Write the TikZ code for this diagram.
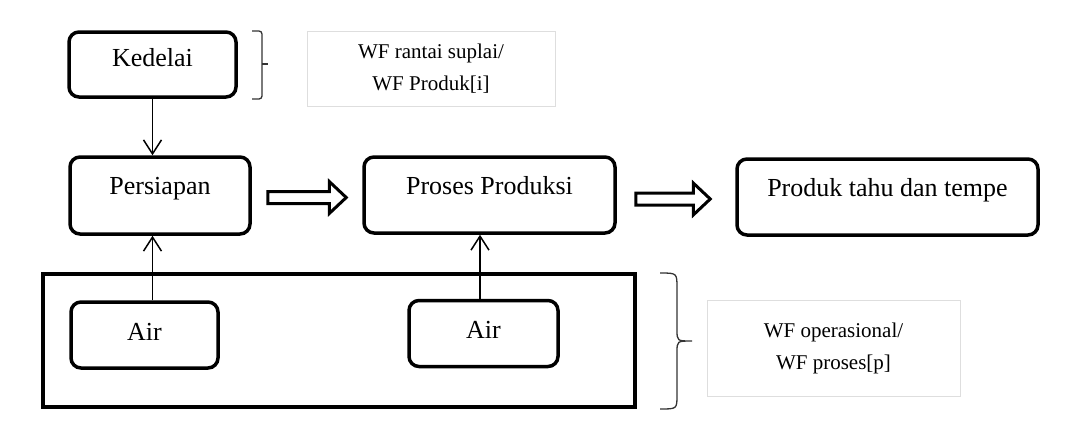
\documentclass[tikz,border=0pt]{standalone}
\usepackage{fontspec}
\setmainfont{Liberation Serif}
\usetikzlibrary{arrows.meta,calc}
\newcommand\mainfnt{\fontsize{26}{30}\selectfont}
\newcommand\wffnt{\fontsize{21}{32}\selectfont}
\begin{document}
\begin{tikzpicture}[x=1pt,y=-1pt,
  box/.style={draw, line width=3.5pt, rounded corners=10pt, inner sep=0pt, font=\mainfnt, text height=17pt},
  wfbox/.style={draw=black!13, line width=1pt, inner sep=0pt, align=center, font=\wffnt},
  frame/.style={draw, line width=4pt, inner sep=0pt},
  arr/.style={line width=1.5pt, -{Straight Barb[length=14pt,width=18pt,line width=1.5pt]}},
  blockarr/.style={draw, line width=3pt, fill=white, line join=miter},
  bracel/.style={draw=black!80, line width=1.3pt}]
\useasboundingbox (0,0) rectangle (1079,429);

% nodes
\node[box, minimum width=167, minimum height=65, text depth=13pt] (kedelai) at (152.5,64.5) {Kedelai};
\node[box, minimum width=180, minimum height=77, text depth=19pt] (persiapan) at (160,195.5) {Persiapan};
\node[box, minimum width=251, minimum height=76, text depth=19pt] (proses) at (489.5,195) {Proses Produksi};
\node[box, minimum width=301, minimum height=76, text depth=19pt] (produk) at (887.5,197) {Produk tahu dan tempe};
\node[frame, minimum width=592, minimum height=133] (ops) at (339,340.5) {};
\node[box, minimum width=147, minimum height=66, text depth=7pt] (air1) at (144.5,335) {Air};
\node[box, minimum width=149, minimum height=66, text depth=7pt] (air2) at (483.5,333.5) {Air};
\node[wfbox, minimum width=248, minimum height=75] (wfr) at (431,68.5) {WF rantai suplai/\\WF Produk[i]};
\node[wfbox, minimum width=253, minimum height=96] (wfo) at (833.5,348) {WF operasional/\\WF proses[p]};

% thin arrows
\draw[arr] (kedelai.south) -- (kedelai.south |- persiapan.north);
\draw[arr] (air1.north -| kedelai.south) -- (persiapan.south -| kedelai.south);
\draw[arr] ([xshift=-3.5pt]air2.north) -- ([xshift=-3.5pt]air2.north |- proses.south);

% block arrows
\draw[blockarr] let \p1=($(persiapan.east)+(16,2)$), \p2=($(proses.west)+(-16,2)$) in
  (\x1,\y1+6pt) -- (\x2-17pt,\y1+6pt) -- (\x2-17pt,\y1+16pt) -- (\x2,\y1)
  -- (\x2-17pt,\y1-16pt) -- (\x2-17pt,\y1-6pt) -- (\x1,\y1-6pt) -- cycle;
\draw[blockarr] let \p1=($(proses.east)+(19,4)$), \p2=($(produk.west)+(-25,2)$) in
  (\x1,\y1+6pt) -- (\x2-17pt,\y1+6pt) -- (\x2-17pt,\y1+16pt) -- (\x2,\y1)
  -- (\x2-17pt,\y1-16pt) -- (\x2-17pt,\y1-6pt) -- (\x1,\y1-6pt) -- cycle;

% braces
\draw[bracel] (252,31) -- (259,31) to[out=0,in=90] (262,34) -- (262,96) to[out=-90,in=0] (259,99) -- (252,99);
\draw[bracel] (262,64) -- (268,64);
\draw[bracel] (660,273) .. controls (677,273) .. (677,288) -- (677,330)
  .. controls (677,341) .. (692,341) .. controls (677,341) .. (677,352)
  -- (677,395) .. controls (677,409) .. (660,409);
\end{tikzpicture}
\end{document}
